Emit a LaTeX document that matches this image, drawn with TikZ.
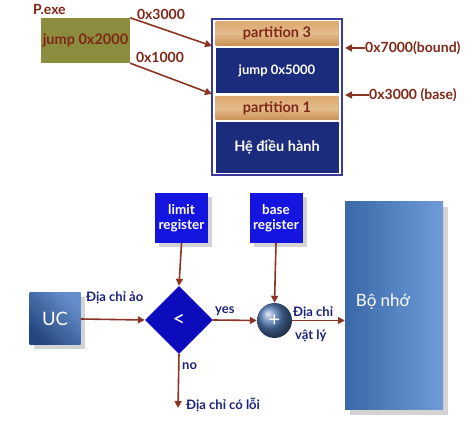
\documentclass[tikz,border=0pt]{standalone}
\usepackage{fontspec}
\setmainfont{Lato}
\usetikzlibrary{arrows.meta,shapes.geometric,shadows,shadings}
\definecolor{arrowc}{HTML}{8A3424}
\definecolor{redtxt}{HTML}{7E2716}
\definecolor{navytxt}{HTML}{1A2378}
\definecolor{olive}{HTML}{8C8C3E}
\definecolor{wood}{HTML}{DCAA70}
\definecolor{woodd}{HTML}{C98E52}
\definecolor{navyblk}{HTML}{1C2C7C}
\definecolor{memborder}{HTML}{3A3A9E}
\definecolor{regblue}{HTML}{1515E0}
\definecolor{diamblue}{HTML}{0C0CBC}
\definecolor{steeld}{HTML}{24467F}
\definecolor{steelm}{HTML}{3A68A8}
\definecolor{steell}{HTML}{6F9BD8}
\tikzset{
  arr/.style={draw=arrowc,line width=1.6pt,-{Triangle[length=7pt,width=7pt]}},
  redlbl/.style={text=redtxt,font=\bfseries\fontsize{14}{15}\selectfont,inner sep=0pt},
  navylbl/.style={text=navytxt,font=\bfseries\fontsize{13}{14}\selectfont,inner sep=0pt},
  woodblk/.style={draw=none,top color=wood,bottom color=woodd,middle color=wood!80!white,text=redtxt,font=\bfseries\fontsize{14.5}{15}\selectfont},
  navyblock/.style={draw=none,fill=navyblk,text=white,font=\bfseries\fontsize{13}{14}\selectfont},
  regbox/.style={fill=regblue,text=white,font=\bfseries\fontsize{13.5}{15}\selectfont,align=center,minimum width=53pt,minimum height=50pt,inner sep=0pt,drop shadow={shadow xshift=4pt,shadow yshift=-4pt,opacity=0.35}},
}
\begin{document}
\begin{tikzpicture}[x=1pt,y=-1pt]
\useasboundingbox (0,0) rectangle (469,427);
% ---------- top part ----------
\node[redlbl,anchor=west] (pexe) at (33,9) {P.exe};
\node[fill=olive,text=redtxt,font=\bfseries\fontsize{14.5}{15}\selectfont,minimum width=89pt,minimum height=45pt,inner sep=0pt] (prog) at (85.5,40.5) {jump 0x2000};
% memory
\node[draw=memborder,line width=1.2pt,fill=white,minimum width=130pt,minimum height=156pt,inner sep=0pt] (mem) at (277,97) {};
\node[woodblk,minimum width=123pt,minimum height=24pt,inner sep=0pt] (p3) at (277,33.5) {partition 3};
\node[navyblock,minimum width=123pt,minimum height=45pt,inner sep=0pt] (j5) at (277,70.5) {jump 0x5000};
\node[woodblk,minimum width=123pt,minimum height=23pt,inner sep=0pt] (p1) at (277,108.5) {partition 1};
\node[navyblock,minimum width=123pt,minimum height=51pt,inner sep=0pt,font=\bfseries\fontsize{14.5}{15}\selectfont] (os) at (277,147.5) {Hệ điều hành};
\coordinate (m3) at (212,46);
\coordinate (m1) at (212,94);
\draw[arr] (prog.north east) -- (m3);
\draw[arr] (prog.south east) -- (m1);
\node[redlbl] (l3000) at (161,14) {0x3000};
\node[redlbl] (l1000) at (160,57) {0x1000};
\node[redlbl,anchor=west] (bound) at (365,48) {0x7000(bound)};
\node[redlbl,anchor=west] (base) at (369,95) {0x3000 (base)};
\draw[arr] (bound.west) -- (345,48);
\draw[arr] (base.west) -- (345,95);
% ---------- bottom part ----------
\node[regbox] (limit) at (181.5,218) {limit\\register};
\node[regbox] (basereg) at (276,218) {base\\register};
\node[diamond,fill=diamblue,text=white,minimum width=68pt,minimum height=68pt,inner sep=0pt,aspect=1,font=\fontsize{22}{22}\selectfont] (cmp) at (179,320) {<};
\node[minimum width=51pt,minimum height=52pt,inner sep=0pt,text=white,font=\fontsize{18.5}{19}\selectfont,shading=axis,left color=steell!85!steeld,right color=steeld,shading angle=-45,drop shadow={shadow xshift=4pt,shadow yshift=-4pt,opacity=0.35}] (uc) at (55,319) {UC};
\node[circle,minimum size=35pt,inner sep=0pt,ball color=steell!60!steeld,text=white,font=\fontsize{20}{20}\selectfont] (plus) at (274.5,320.5) {+};
\node[minimum width=98pt,minimum height=208pt,inner sep=0pt,left color=steelm,right color=steell,drop shadow={shadow xshift=5pt,shadow yshift=-5pt,opacity=0.35}] (bonho) at (394,306) {};
\node[text=white,font=\fontsize{17}{17}\selectfont,inner sep=0pt] (bnlbl) at (383,302) {Bộ nhớ};
\coordinate (err) at (178,408);
\draw[arr] (limit.south) -- (cmp.north);
\draw[arr] (uc.east) -- (cmp.west);
\draw[arr] (cmp.east) -- (plus.west);
\draw[arr] (basereg.south) -- (plus.north);
\draw[arr] (plus.east) -- (bonho.west |- plus.east);
\draw[arr] (cmp.south) -- (err);
\node[navylbl,anchor=west] (ao) at (86,298) {Địa chỉ ảo};
\node[navylbl,anchor=west] (yes) at (215,311) {yes};
\node[navylbl,anchor=west] (no) at (182,366) {no};
\node[navylbl,anchor=west] (loi) at (186,405) {Địa chỉ có lỗi};
\node[navylbl,anchor=west] (vl1) at (293,313) {Địa chỉ};
\node[navylbl,anchor=west] (vl2) at (295,336) {vật lý};
\end{tikzpicture}
\end{document}
